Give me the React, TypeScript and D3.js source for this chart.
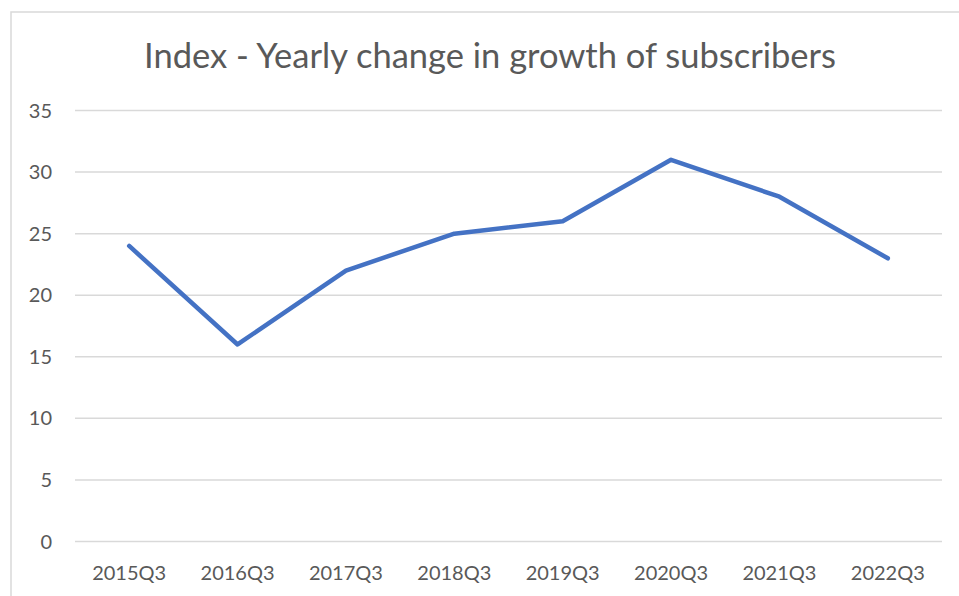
import React from "react";
import * as d3 from "d3";

const categories = ["2015Q3", "2016Q3", "2017Q3", "2018Q3", "2019Q3", "2020Q3", "2021Q3", "2022Q3"];
const values = [24, 16, 22, 25, 26, 31, 28, 23];
const yTicks = [0, 5, 10, 15, 20, 25, 30, 35];
const title = "Index - Yearly change in growth of subscribers";

export default function App() {
  const W = 959, H = 596;
  const left = 75, right = 942, top = 110.5, bottom = 541.5;
  const x = d3.scaleBand<string>().domain(categories).range([left, right]);
  const y = d3.scaleLinear().domain([0, 35]).range([bottom, top]);
  const line = d3.line<number>()
    .x((_, i) => (x(categories[i]) as number) + x.bandwidth() / 2)
    .y((d) => y(d));
  const font = "Lato, 'Open Sans', sans-serif";
  return (
    <svg width={W} height={H} style={{ position: "fixed", left: 0, top: 0, background: "#fff" }}>
      <rect x={0} y={0} width={W} height={H} fill="#fff" />
      <rect x={11} y={12} width={W + 20} height={H + 20} fill="none" stroke="#d9d9d9" strokeWidth={1.5} />
      <text x={490} y={68} textAnchor="middle" fontFamily={font} fontSize={34.5} fill="#595959">{title}</text>
      {yTicks.map((t) => (
        <g key={t}>
          <line x1={left} x2={right} y1={y(t)} y2={y(t)} stroke="#d9d9d9" strokeWidth={1.5} />
          <text x={52} y={y(t)} dy="0.35em" textAnchor="end" fontFamily={font} fontSize={20} fill="#595959">{t}</text>
        </g>
      ))}
      {categories.map((c) => (
        <text key={c} x={(x(c) as number) + x.bandwidth() / 2} y={580} textAnchor="middle" fontFamily={font} fontSize={20} fill="#595959">{c}</text>
      ))}
      <path d={line(values) || ""} fill="none" stroke="#4472C4" strokeWidth={4.5} strokeLinecap="round" strokeLinejoin="round" />
    </svg>
  );
}
